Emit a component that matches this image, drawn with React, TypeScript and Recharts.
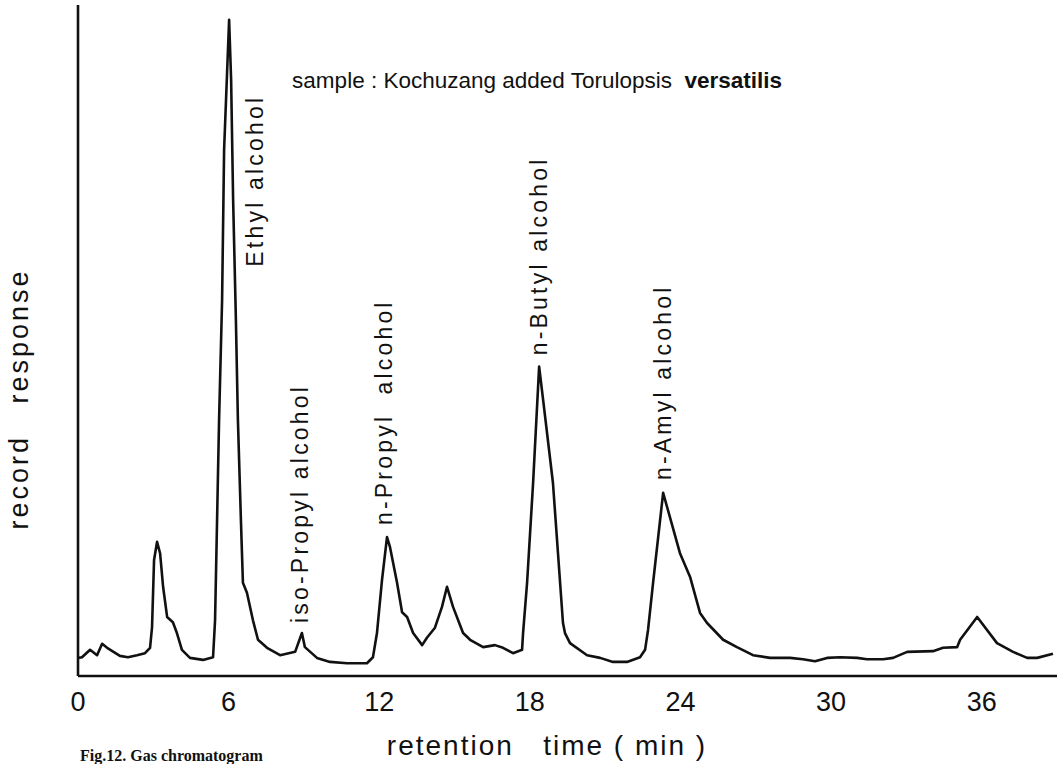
import { Label, Line, LineChart, ReferenceDot, XAxis, YAxis } from "recharts"

// retention time (min) and recorder response (arbitrary units, 0-100 of full scale)
const retentionTime = [
  0, 0.16, 0.48, 0.76, 0.96, 1.16, 1.67, 1.99, 2.35, 2.67,
  2.87, 2.95, 3.03, 3.15, 3.27, 3.39, 3.55, 3.78, 3.94, 4.14,
  4.46, 4.98, 5.38, 5.46, 5.54, 5.62, 5.74, 5.82, 6.02, 6.1,
  6.18, 6.29, 6.37, 6.49, 6.57, 6.73, 6.97, 7.17, 7.53, 8.05,
  8.65, 8.92, 9.04, 9.52, 10.04, 10.72, 11.51, 11.75, 11.91, 12.11,
  12.31, 12.43, 12.71, 12.91, 13.11, 13.35, 13.71, 13.9, 14.22, 14.5,
  14.7, 14.94, 15.34, 15.62, 16.14, 16.61, 16.93, 17.33, 17.69, 17.73,
  17.89, 18.13, 18.37, 18.53, 18.92, 19.32, 19.4, 19.6, 20.28, 20.8,
  21.31, 21.87, 22.39, 22.59, 22.71, 22.91, 23.31, 23.98, 24.38, 24.78,
  25.06, 25.7, 26.25, 26.89, 27.57, 28.37, 28.88, 29.36, 29.84, 30.36,
  31.04, 31.43, 32.07, 32.47, 33.03, 34.06, 34.46, 35.02, 35.14, 35.82,
  36.61, 37.25, 37.81, 38.21, 38.84,
]

const recordResponse = [
  2.7, 2.8, 3.9, 3.1, 4.8, 4.2, 3.0, 2.8, 3.1, 3.4,
  4.2, 7.3, 17.3, 20.0, 18.3, 13.3, 8.8, 8.0, 6.4, 3.9,
  2.7, 2.4, 2.8, 8.3, 23.2, 38.2, 56.0, 78.4, 97.8, 88.8,
  70.9, 53.1, 38.2, 23.2, 13.9, 12.4, 8.3, 5.4, 4.2, 3.1,
  3.6, 6.4, 4.3, 2.7, 2.1, 1.9, 1.9, 2.8, 6.4, 14.3,
  20.7, 19.2, 13.9, 9.5, 8.8, 6.4, 4.6, 5.7, 7.2, 10.3,
  13.3, 10.3, 6.4, 5.4, 4.3, 4.6, 4.2, 3.4, 3.9, 6.4,
  13.9, 28.8, 46.1, 41.1, 28.8, 7.9, 6.4, 4.9, 3.1, 2.7,
  2.1, 2.1, 2.8, 3.9, 6.9, 13.9, 27.3, 18.3, 14.8, 9.4,
  7.9, 5.4, 4.3, 3.1, 2.7, 2.7, 2.5, 2.2, 2.7, 2.8,
  2.7, 2.5, 2.5, 2.7, 3.6, 3.7, 4.2, 4.3, 5.4, 8.8,
  4.9, 3.6, 2.7, 2.7, 3.3,
]

const timeTicks = [0, 6, 12, 18, 24, 30, 36]

// peak names, written upward starting at (time, response)
const peakNames = ["Ethyl alcohol", "iso-Propyl alcohol", "n-Propyl  alcohol", "n-Butyl alcohol", "n-Amyl alcohol"]
const peakLabelTime = [7.37, 9.16, 12.51, 18.69, 23.63]
const peakLabelResponse = [61.0, 7.9, 22.5, 47.8, 29.2]

const sampleText = "sample : Kochuzang added Torulopsis  "
const sampleSpecies = "versatilis"
const xAxisTitle = "retention   time ( min )"
const yAxisTitle = "record   response"
const captionText = "Fig.12. Gas chromatogram"

const data = retentionTime.map((t, i) => ({ t, v: recordResponse[i] }))

const FONT = "'Liberation Sans', Arial, sans-serif"
const INK = "#111"

const PeakText = ({ viewBox, text }: any) => {
  const { x, y } = viewBox
  return (
    <text
      x={x}
      y={y}
      transform={`rotate(-90 ${x} ${y})`}
      fontFamily={FONT}
      fontSize={23}
      letterSpacing={3.2}
      fill={INK}
      style={{ whiteSpace: "pre" }}
    >
      {text}
    </text>
  )
}

const SampleText = ({ viewBox }: any) => (
  <text x={viewBox.x} y={viewBox.y} fontFamily={FONT} fontSize={22.5} fill={INK} style={{ whiteSpace: "pre" }}>
    {sampleText}
    <tspan fontWeight="bold">{sampleSpecies}</tspan>
  </text>
)

const XTitle = ({ viewBox }: any) => {
  const { x, y } = viewBox
  return (
    <g>
      <text
        x={x + 469}
        y={y + 79}
        textAnchor="middle"
        fontFamily={FONT}
        fontSize={28}
        letterSpacing={2}
        fill={INK}
        style={{ whiteSpace: "pre" }}
      >
        {xAxisTitle}
      </text>
      <text x={x + 2} y={y + 85} fontFamily="'Liberation Serif', serif" fontWeight="bold" fontSize={16} fill={INK}>
        {captionText}
      </text>
    </g>
  )
}

const YTitle = ({ viewBox }: any) => {
  const { x, y } = viewBox
  const cx = x + 10
  const cy = y + 394
  return (
    <text
      x={cx}
      y={cy}
      transform={`rotate(-90 ${cx} ${cy})`}
      textAnchor="middle"
      fontFamily={FONT}
      fontSize={27}
      letterSpacing={3}
      fill={INK}
      style={{ whiteSpace: "pre" }}
    >
      {yAxisTitle}
    </text>
  )
}

const App = () => {
  return (
    <div style={{ position: "absolute", left: 0, top: 0, width: 1062, height: 764, overflow: "hidden", background: "#fff" }}>
      <LineChart width={1062} height={764} data={data} margin={{ top: 5, right: 5, bottom: 28, left: 18 }}>
        <XAxis
          dataKey="t"
          type="number"
          domain={[0, 39]}
          ticks={timeTicks}
          height={60}
          axisLine={{ stroke: INK, strokeWidth: 2.6 }}
          tickLine={false}
          tickSize={6}
          tickMargin={10}
          tick={{ fill: INK, fontSize: 27, fontFamily: FONT }}
          allowDataOverflow
        >
          <Label content={<XTitle />} />
        </XAxis>
        <YAxis
          type="number"
          domain={[0, 100]}
          width={60}
          axisLine={{ stroke: INK, strokeWidth: 2.6 }}
          tick={false}
          tickLine={false}
          allowDataOverflow
        >
          <Label content={<YTitle />} />
        </YAxis>
        <Line
          type="linear"
          dataKey="v"
          stroke={INK}
          strokeWidth={2.6}
          strokeLinejoin="round"
          dot={false}
          activeDot={false}
          isAnimationActive={false}
        />
        {peakNames.map((name, i) => (
          <ReferenceDot
            key={name}
            x={peakLabelTime[i]}
            y={peakLabelResponse[i]}
            r={0}
            fill="none"
            stroke="none"
            label={(props: any) => <PeakText viewBox={props.viewBox} text={name} />}
          />
        ))}
        <ReferenceDot
          x={8.53}
          y={87.6}
          r={0}
          fill="none"
          stroke="none"
          label={(props: any) => <SampleText viewBox={props.viewBox} />}
        />
      </LineChart>
    </div>
  )
}

export default App
